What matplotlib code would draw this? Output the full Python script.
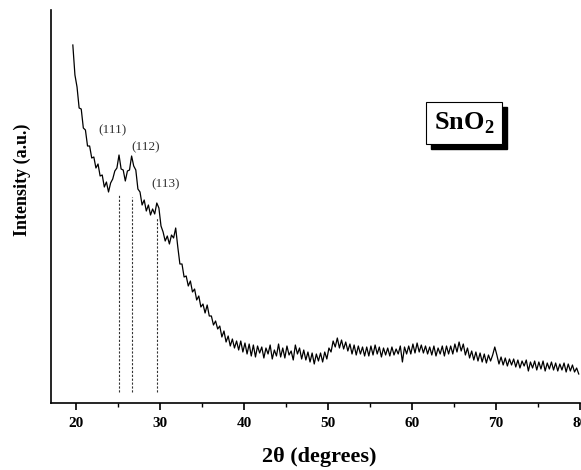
import numpy as np
import matplotlib
matplotlib.use("Agg")
import matplotlib.pyplot as plt
from matplotlib.ticker import MultipleLocator
from matplotlib.patches import Rectangle
from matplotlib.transforms import IdentityTransform

plt.rcParams['font.family'] = ['Liberation Serif', 'DejaVu Serif']
plt.rcParams['mathtext.fontset'] = 'custom'
plt.rcParams['mathtext.rm'] = 'Liberation Serif:bold'
plt.rcParams['mathtext.bf'] = 'Liberation Serif:bold'

# scan grid: start angle and step (degrees 2theta)
start_2theta = 19.6
step_2theta = 0.25

# intensity (a.u.), one value per step
intensity = [
    358, 328, 316, 295, 294, 275, 273, 257, 257, 245,
    246, 235, 239, 227, 228, 216, 221, 211, 220, 224,
    232, 235, 248, 234, 233, 222, 232, 233, 247, 237,
    233, 214, 211, 198, 203, 192, 198, 188, 194, 189,
    200, 195, 177, 171, 162, 167, 159, 168, 165, 175,
    156, 139, 139, 126, 127, 117, 122, 111, 114, 103,
    107, 96, 99, 90, 98, 87, 87, 78, 82, 74,
    77, 66, 72, 61, 67, 57, 64, 55, 62, 53,
    62, 51, 60, 49, 59, 47, 58, 46, 57, 50,
    56, 45, 55, 49, 58, 44, 53, 47, 59, 46,
    55, 45, 57, 48, 52, 43, 58, 49, 55, 44,
    53, 43, 51, 41, 50, 39, 49, 42, 50, 41,
    51, 44, 55, 51, 62, 56, 65, 55, 63, 54,
    61, 52, 59, 49, 58, 48, 57, 49, 56, 47,
    56, 47, 57, 48, 58, 49, 56, 46, 55, 48,
    55, 47, 56, 48, 54, 49, 57, 41, 56, 49,
    57, 49, 59, 50, 60, 51, 58, 50, 57, 49,
    56, 48, 57, 47, 55, 49, 57, 47, 57, 49,
    57, 49, 59, 51, 61, 52, 59, 48, 55, 45,
    52, 43, 51, 42, 50, 41, 49, 40, 48, 42,
    48, 56, 48, 39, 46, 38, 45, 37, 44, 38,
    44, 36, 43, 35, 42, 37, 43, 32, 41, 35,
    42, 33, 41, 34, 42, 32, 40, 34, 41, 33,
    40, 32, 39, 33, 40, 31, 39, 32, 38, 31,
    35, 29,
]
two_theta = start_2theta + step_2theta * np.arange(len(intensity))

# reflections: position, dashed-line top, label position
peak_labels = ["(111)", "(112)", "(113)"]
peak_pos = [25.1, 26.7, 29.65]
peak_line_top = [208, 206, 186]
peak_line_bottom = 11
label_x = [24.3, 28.3, 30.7]
label_y = [273, 256, 219]

fig = plt.figure(figsize=(5.81, 4.70), dpi=100)
ax = fig.add_axes([51 / 581, 67 / 470, 529 / 581, 393 / 470])

ax.plot(two_theta, intensity, color='black', lw=0.9)

ax.vlines(peak_pos, peak_line_bottom, peak_line_top, colors='#333333',
          linestyles=(0, (2, 1.5)), lw=0.8)
for lab, lx, ly in zip(peak_labels, label_x, label_y):
    ax.text(lx, ly, lab, ha='center', va='center', fontsize=9.5, color='#333333')

ax.set_xlim(17, 80)
ax.set_ylim(0, 393)

# SnO2 box with drop shadow
box = ax.text(66.2, 280, r'SnO$_2$', ha='center', va='center', fontsize=19,
              fontweight='bold', color='black', zorder=5,
              bbox=dict(boxstyle='square,pad=0.3', fc='white', ec='black', lw=0.8))
fig.canvas.draw()
bb = box.get_bbox_patch().get_window_extent()
ax.add_artist(Rectangle((bb.x0 + 5, bb.y0 - 5), bb.width, bb.height,
                        transform=IdentityTransform(), fc='black', ec='black',
                        zorder=4, clip_on=False))

ax.spines['top'].set_visible(False)
ax.spines['right'].set_visible(False)
ax.spines['left'].set_linewidth(1.2)
ax.spines['bottom'].set_linewidth(1.2)
ax.set_yticks([])
ax.xaxis.set_major_locator(MultipleLocator(10))
ax.xaxis.set_minor_locator(MultipleLocator(5))
ax.tick_params(axis='x', which='major', direction='out', length=5, width=1.2, pad=5,
               labelsize=11)
ax.tick_params(axis='x', which='minor', direction='out', length=3, width=1.0)
for t in ax.get_xticklabels():
    t.set_fontweight('bold')

ax.set_xlabel('2θ (degrees)', fontsize=16, fontweight='bold', va='center')
ax.xaxis.set_label_coords(0.507, -0.137)
ax.set_ylabel('Intensity (a.u.)', fontsize=13, fontweight='bold', va='center')
ax.yaxis.set_label_coords(-0.055, 0.567)

fig.savefig('out.png', dpi=100)
